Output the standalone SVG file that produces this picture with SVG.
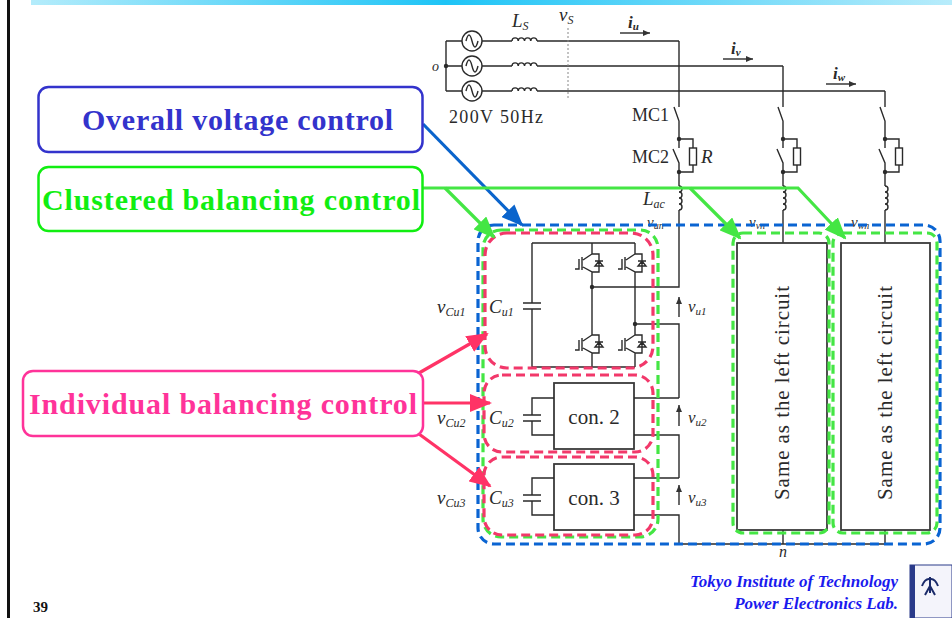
<svg xmlns="http://www.w3.org/2000/svg" width="952" height="618" viewBox="0 0 952 618">
<defs>
<linearGradient id="bar" x1="0" x2="1" y1="0" y2="0">
<stop offset="0" stop-color="#b4ecfb"/>
<stop offset="0.45" stop-color="#1ec4f6"/>
<stop offset="1" stop-color="#b8ecfb"/>
</linearGradient>
<marker id="ab" viewBox="0 0 22 18" refX="20" refY="9" markerWidth="22" markerHeight="18" markerUnits="userSpaceOnUse" orient="auto"><path d="M0,0 L22,9 L0,18 Z" fill="#0a64cc"/></marker>
<marker id="ag" viewBox="0 0 22 18" refX="20" refY="9" markerWidth="22" markerHeight="18" markerUnits="userSpaceOnUse" orient="auto"><path d="M0,0 L22,9 L0,18 Z" fill="#44e644"/></marker>
<marker id="ap" viewBox="0 0 22 18" refX="20" refY="9" markerWidth="22" markerHeight="18" markerUnits="userSpaceOnUse" orient="auto"><path d="M0,0 L22,9 L0,18 Z" fill="#ff3366"/></marker>
<marker id="sa" viewBox="0 0 7 6" refX="7" refY="3" markerWidth="7" markerHeight="6" markerUnits="userSpaceOnUse" orient="auto"><path d="M0,0 L7,3 L0,6 Z" fill="#333"/></marker>
<g id="igbt"><path class="w" d="M0,0 V4 L-9,10 M-10,7 V20 M-9,17 L0,22 V26 M-13,9 V19 H-17 M0,4 H7 V22 H0 M3,11 H11 M3,16 H11 L7,11 Z"/></g>
<path id="lac" class="w" d="M0,0 a3,3 0 0 1 0,6 a3,3 0 0 1 0,6 a3,3 0 0 1 0,6 a3,3 0 0 1 0,6"/>
<path id="ls" class="w" d="M0,0 a3.1,3.1 0 0 1 6.25,0 a3.1,3.1 0 0 1 6.25,0 a3.1,3.1 0 0 1 6.25,0 a3.1,3.1 0 0 1 6.25,0"/>
<g id="src"><circle r="10" class="w"/><path class="w" d="M-6,0 c2,-8 4,-8 6,0 s4,8 6,0"/></g>
</defs>
<style>
.w{fill:none;stroke:#2a2a2a;stroke-width:1.4}
.bx{fill:#fff;stroke:#3a3a3a;stroke-width:1.8}
.m{font-family:"Liberation Serif",serif;font-style:italic;fill:#2a2a2a}
.r{font-family:"Liberation Serif",serif;fill:#2a2a2a}
.lbl{font-family:"Liberation Serif",serif;font-weight:bold;font-size:30px}
.db{fill:none;stroke:#0a64d2;stroke-width:3.2;stroke-dasharray:9 5}
.dg{fill:none;stroke:#44e644;stroke-width:3.2;stroke-dasharray:9 5}
.dr{fill:none;stroke:#f2386a;stroke-width:3.2;stroke-dasharray:9 5}
.dot{fill:#2a2a2a}
</style>
<rect x="0" y="0" width="952" height="618" fill="#fff"/>
<rect x="31" y="0" width="921" height="5" fill="url(#bar)"/>
<rect x="7" y="0" width="3" height="618" fill="#111"/>

<g id="ac-source">
<path class="w" d="M446,41 V91 M446,41 H462 M446,66 H462 M446,91 H462 M482,41 H512 M482,66 H512 M482,91 H512 M537,41 H679 M537,66 H783 M537,91 H885"/>
<circle class="dot" cx="446" cy="66" r="2.2"/>
<use href="#src" x="472" y="41"/><use href="#src" x="472" y="66"/><use href="#src" x="472" y="91"/>
<use href="#ls" x="512" y="41"/><use href="#ls" x="512" y="66"/><use href="#ls" x="512" y="91"/>
<path d="M568,28 V98" fill="none" stroke="#888" stroke-width="1" stroke-dasharray="2 2"/>
<path class="w" d="M620,33 H650" marker-end="url(#sa)"/>
<path class="w" d="M723,59 H753" marker-end="url(#sa)"/>
<path class="w" d="M826,84 H856" marker-end="url(#sa)"/>
<text class="m" x="432" y="71" font-size="14">o</text>
<text class="m" x="512" y="27" font-size="19">L<tspan font-size="12" dy="3">S</tspan></text>
<text class="m" x="559" y="21" font-size="19">v<tspan font-size="12" dy="3">S</tspan></text>
<text class="m" x="628" y="28" font-size="17" font-weight="bold">i<tspan font-size="11" dy="2">u</tspan></text>
<text class="m" x="731" y="54" font-size="17" font-weight="bold">i<tspan font-size="11" dy="2">v</tspan></text>
<text class="m" x="833" y="79" font-size="17" font-weight="bold">i<tspan font-size="11" dy="2">w</tspan></text>
<text class="r" x="449" y="123" font-size="18" textLength="94">200V 50Hz</text>
</g>

<g id="phase-u">
<path class="w" d="M679,41 V107 M674,107 L679,121 V148 M673,149 L679,163 V186 M679,210 V287 H592 M679,139 H693 V148 M693,165 V172 H679"/>
<rect class="w" x="689.5" y="148" width="7" height="17"/>
<circle class="dot" cx="679" cy="139" r="2.2"/><circle class="dot" cx="679" cy="172" r="2.2"/>
<use href="#lac" x="679" y="186"/>
<text class="r" x="669" y="121" font-size="18" text-anchor="end">MC1</text>
<text class="r" x="669" y="163" font-size="18" text-anchor="end">MC2</text>
<text class="m" x="701" y="163" font-size="19">R</text>
<text class="m" x="643" y="205" font-size="19">L<tspan font-size="12" dy="3">ac</tspan></text>
<text class="m" x="647" y="227" font-size="15" fill="#555">v<tspan font-size="10" dy="2">un</tspan></text>
</g>

<g id="phase-v">
<path class="w" d="M783,66 V107 M778,107 L783,121 V148 M777,149 L783,163 V186 M783,210 V243 M783,139 H797 V148 M797,165 V172 H783"/>
<rect class="w" x="793.5" y="148" width="7" height="17"/>
<circle class="dot" cx="783" cy="139" r="2.2"/><circle class="dot" cx="783" cy="172" r="2.2"/>
<use href="#lac" x="783" y="186"/>
<text class="m" x="749" y="227" font-size="15" fill="#555">v<tspan font-size="10" dy="2">vn</tspan></text>
</g>

<g id="phase-w">
<path class="w" d="M885,91 V107 M880,107 L885,121 V148 M879,149 L885,163 V186 M885,210 V243 M885,139 H899 V148 M899,165 V172 H885"/>
<rect class="w" x="895.5" y="148" width="7" height="17"/>
<circle class="dot" cx="885" cy="139" r="2.2"/><circle class="dot" cx="885" cy="172" r="2.2"/>
<use href="#lac" x="885" y="186"/>
<text class="m" x="851" y="227" font-size="15" fill="#555">v<tspan font-size="10" dy="2">wn</tspan></text>
</g>

<g id="cell-u1">
<path class="w" d="M532,243 H635 M532,243 V303 M523,303 H541 M523,309 H541 M532,309 V367 H635 M592,243 V250 M592,276 V331 M592,357 V367 M635,243 V250 M635,276 V331 M635,357 V367 M635,324 H679 V398"/>
<use href="#igbt" x="592" y="250"/><use href="#igbt" x="635" y="250"/>
<use href="#igbt" x="592" y="331"/><use href="#igbt" x="635" y="331"/>
<circle class="dot" cx="592" cy="287" r="2.2"/><circle class="dot" cx="635" cy="324" r="2.2"/>
<text class="m" x="437" y="313" font-size="19">v<tspan font-size="12" dy="3">Cu1</tspan></text>
<text class="m" x="489" y="313" font-size="19">C<tspan font-size="12" dy="3">u1</tspan></text>
</g>

<g id="cell-u2">
<rect class="bx" x="554" y="383" width="80" height="66"/>
<path class="w" d="M554,398 H532 V415 M523,415 H541 M523,421 H541 M532,421 V435 H554 M634,398 H679 M634,435 H679 V478"/>
<text class="r" x="594" y="424" font-size="21" text-anchor="middle">con. 2</text>
<text class="m" x="437" y="424" font-size="19">v<tspan font-size="12" dy="3">Cu2</tspan></text>
<text class="m" x="489" y="424" font-size="19">C<tspan font-size="12" dy="3">u2</tspan></text>
</g>

<g id="cell-u3">
<rect class="bx" x="554" y="464" width="80" height="66"/>
<path class="w" d="M554,478 H532 V495 M523,495 H541 M523,501 H541 M532,501 V515 H554 M634,478 H679 M634,515 H679 V544 H885"/>
<text class="r" x="594" y="505" font-size="21" text-anchor="middle">con. 3</text>
<text class="m" x="437" y="504" font-size="19">v<tspan font-size="12" dy="3">Cu3</tspan></text>
<text class="m" x="489" y="504" font-size="19">C<tspan font-size="12" dy="3">u3</tspan></text>
</g>

<g id="cell-voltages">
<path class="w" d="M679,317 V297" marker-end="url(#sa)"/>
<path class="w" d="M679,426 V405" marker-end="url(#sa)"/>
<path class="w" d="M679,505 V485" marker-end="url(#sa)"/>
<text class="m" x="688" y="312" font-size="17">v<tspan font-size="11" dy="3">u1</tspan></text>
<text class="m" x="688" y="423" font-size="17">v<tspan font-size="11" dy="3">u2</tspan></text>
<text class="m" x="688" y="503" font-size="17">v<tspan font-size="11" dy="3">u3</tspan></text>
</g>

<g id="box-v">
<rect class="bx" x="737" y="243" width="90" height="287"/>
<path class="w" d="M783,530 V544"/>
<text class="r" transform="translate(789,393) rotate(-90)" font-size="21" text-anchor="middle" textLength="214">Same as the left circuit</text>
</g>
<g id="box-w">
<rect class="bx" x="841" y="243" width="89" height="287"/>
<path class="w" d="M885,530 V544"/>
<text class="r" transform="translate(892,393) rotate(-90)" font-size="21" text-anchor="middle" textLength="214">Same as the left circuit</text>
</g>
<text class="m" x="779" y="557" font-size="16">n</text>

<g id="regions">
<rect class="db" x="478" y="225" width="462" height="319" rx="16"/>
<rect class="dg" x="483" y="230" width="175" height="307" rx="18"/>
<rect class="dg" x="733" y="233" width="96" height="300" rx="10"/>
<rect class="dg" x="833" y="233" width="104" height="300" rx="10"/>
<rect class="dr" x="485" y="233" width="168" height="135" rx="22"/>
<rect class="dr" x="484" y="375" width="169" height="77" rx="18"/>
<rect class="dr" x="484" y="457" width="169" height="78" rx="18"/>
</g>

<g id="connectors">
<path d="M423,124 L522,225" fill="none" stroke="#0a64cc" stroke-width="3.2" marker-end="url(#ab)"/>
<path d="M423,188 H798 L845,238" fill="none" stroke="#44e644" stroke-width="3.2" marker-end="url(#ag)"/>
<path d="M445,188 L494,237" fill="none" stroke="#44e644" stroke-width="3.2" marker-end="url(#ag)"/>
<path d="M690,188 L740,238" fill="none" stroke="#44e644" stroke-width="3.2" marker-end="url(#ag)"/>
<path d="M419,373 L487,334" fill="none" stroke="#ff3366" stroke-width="3.2" marker-end="url(#ap)"/>
<path d="M423,403 H490" fill="none" stroke="#ff3366" stroke-width="3.2" marker-end="url(#ap)"/>
<path d="M419,434 L490,486" fill="none" stroke="#ff3366" stroke-width="3.2" marker-end="url(#ap)"/>
</g>

<g id="label-overall">
<rect x="38.5" y="87" width="384" height="65" rx="10" fill="#fff" stroke="#3333cc" stroke-width="2.5"/>
<text class="lbl" x="82" y="130" fill="#3333cc" textLength="311">Overall voltage control</text>
</g>
<g id="label-clustered">
<rect x="38.5" y="167" width="384" height="64" rx="10" fill="#fff" stroke="#11ee11" stroke-width="2.5"/>
<text class="lbl" x="42" y="210" fill="#11ee11" textLength="378">Clustered balancing control</text>
</g>
<g id="label-individual">
<rect x="23" y="371" width="400" height="65" rx="10" fill="#fff" stroke="#ff3399" stroke-width="2.5"/>
<text class="lbl" x="29" y="414" fill="#ff3399" textLength="388">Individual balancing control</text>
</g>

<g id="footer">
<text x="898" y="587" font-family="'Liberation Serif',serif" font-weight="bold" font-style="italic" font-size="17" fill="#1a1aee" text-anchor="end">Tokyo Institute of Technology</text>
<text x="898" y="609" font-family="'Liberation Serif',serif" font-weight="bold" font-style="italic" font-size="17" fill="#1a1aee" text-anchor="end">Power Electronics Lab.</text>
</g>
<g id="logo">
<rect x="910" y="565" width="42" height="53" fill="#f4f4fb" stroke="#2a3a8a" stroke-width="1"/>
<rect x="910" y="565" width="5" height="53" fill="#2a3a8a"/>
<path d="M930,577 V593 M922,586 Q925,578 930,579 Q935,578 938,586 M930,586 L925,595 M930,586 L935,595" fill="none" stroke="#1a2a6a" stroke-width="2"/>
</g>
<text id="page-number" x="33" y="612" font-family="'Liberation Serif',serif" font-weight="bold" font-size="15" fill="#111">39</text>
</svg>
